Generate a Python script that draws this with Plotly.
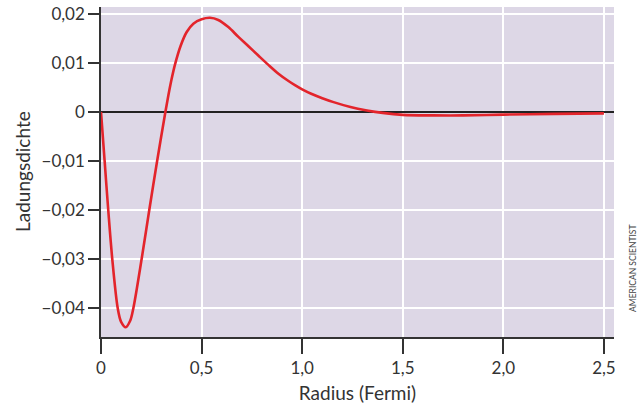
import plotly.graph_objects as go

# Data
radius = [0, 0.018, 0.036, 0.056, 0.083, 0.10, 0.123, 0.145, 0.161, 0.202, 0.240,
          0.279, 0.320, 0.335, 0.351, 0.368, 0.396, 0.426, 0.459, 0.50, 0.542,
          0.583, 0.633, 0.683, 0.733, 0.782, 0.832, 0.882, 0.932, 0.966, 1.0,
          1.045, 1.10, 1.156, 1.24, 1.322, 1.40, 1.5, 1.65, 1.8, 2.0, 2.25, 2.5]
density = [0, -0.010, -0.020, -0.030, -0.040, -0.0428, -0.0439, -0.0426, -0.040,
           -0.030, -0.020, -0.010, 0.0, 0.0034, 0.0067, 0.0097, 0.0135, 0.0163,
           0.0180, 0.0189, 0.0192, 0.01875, 0.0173, 0.0153, 0.0134, 0.0115,
           0.0096, 0.0078, 0.0063, 0.0054, 0.0046, 0.0037, 0.0028, 0.0020, 0.0010,
           0.0003, -0.0002, -0.0006, -0.0007, -0.0007, -0.00055, -0.0004, -0.0003]

x_tickvals = [0, 0.5, 1.0, 1.5, 2.0, 2.5]
x_ticktext = ["0", "0,5", "1,0", "1,5", "2,0", "2,5"]
y_tickvals = [0.02, 0.01, 0, -0.01, -0.02, -0.03, -0.04]
y_ticktext = ["0,02", "0,01", "0", "\u22120,01", "\u22120,02", "\u22120,03", "\u22120,04"]

FONT = "Lato, 'Open Sans', sans-serif"
TXT = "#333333"

fig = go.Figure()
fig.add_trace(go.Scatter(
    x=radius, y=density, mode="lines",
    line=dict(color="#e3242b", width=2.6, shape="spline", smoothing=0.9),
    hoverinfo="skip", showlegend=False,
))

fig.update_layout(
    width=637, height=404,
    margin=dict(l=101, r=23, t=7, b=67, autoexpand=False),
    paper_bgcolor="white",
    plot_bgcolor="#ddd7e6",
    font=dict(family=FONT, color=TXT, size=17),
    xaxis=dict(
        range=[0, 2.55], automargin=False,
        tickvals=x_tickvals, ticktext=x_ticktext,
        ticks="outside", ticklen=15, tickwidth=1.5, tickcolor="#333333",
        showgrid=True, gridcolor="white", gridwidth=1.5,
        showline=True, linecolor="#333333", linewidth=1.5,
        zeroline=False,
        tickfont=dict(size=17, color=TXT),
        title=dict(text="Radius (Fermi)", font=dict(size=19, color=TXT), standoff=10),
    ),
    yaxis=dict(
        range=[-0.0459, 0.0214], automargin=False,
        tickvals=y_tickvals, ticktext=y_ticktext,
        ticks="outside", ticklen=11, tickwidth=1.5, tickcolor="#333333",
        showgrid=True, gridcolor="white", gridwidth=1.5,
        showline=True, linecolor="#333333", linewidth=1.5,
        zeroline=True, zerolinecolor="#222222", zerolinewidth=1.5,
        tickfont=dict(size=17, color=TXT),
    ),
    annotations=[
        dict(
            text="Ladungsdichte", xref="paper", yref="paper",
            x=0.0, y=0.5, xanchor="center", yanchor="middle", xshift=-79,
            textangle=-90, showarrow=False,
            font=dict(family=FONT, size=19, color=TXT),
        ),
        dict(
            text="AMERICAN SCIENTIST", xref="paper", yref="paper",
            x=1.0, y=0.5, xanchor="left", yanchor="middle", xshift=12, yshift=-97,
            textangle=-90, showarrow=False,
            font=dict(family=FONT, size=8.5, color="#444444"),
        ),
    ],
)

# remove the default 8px page margin so the figure fills the window exactly
fig.write_html("out.html", config={"displayModeBar": False},
               post_script="document.body.style.margin='0';")
